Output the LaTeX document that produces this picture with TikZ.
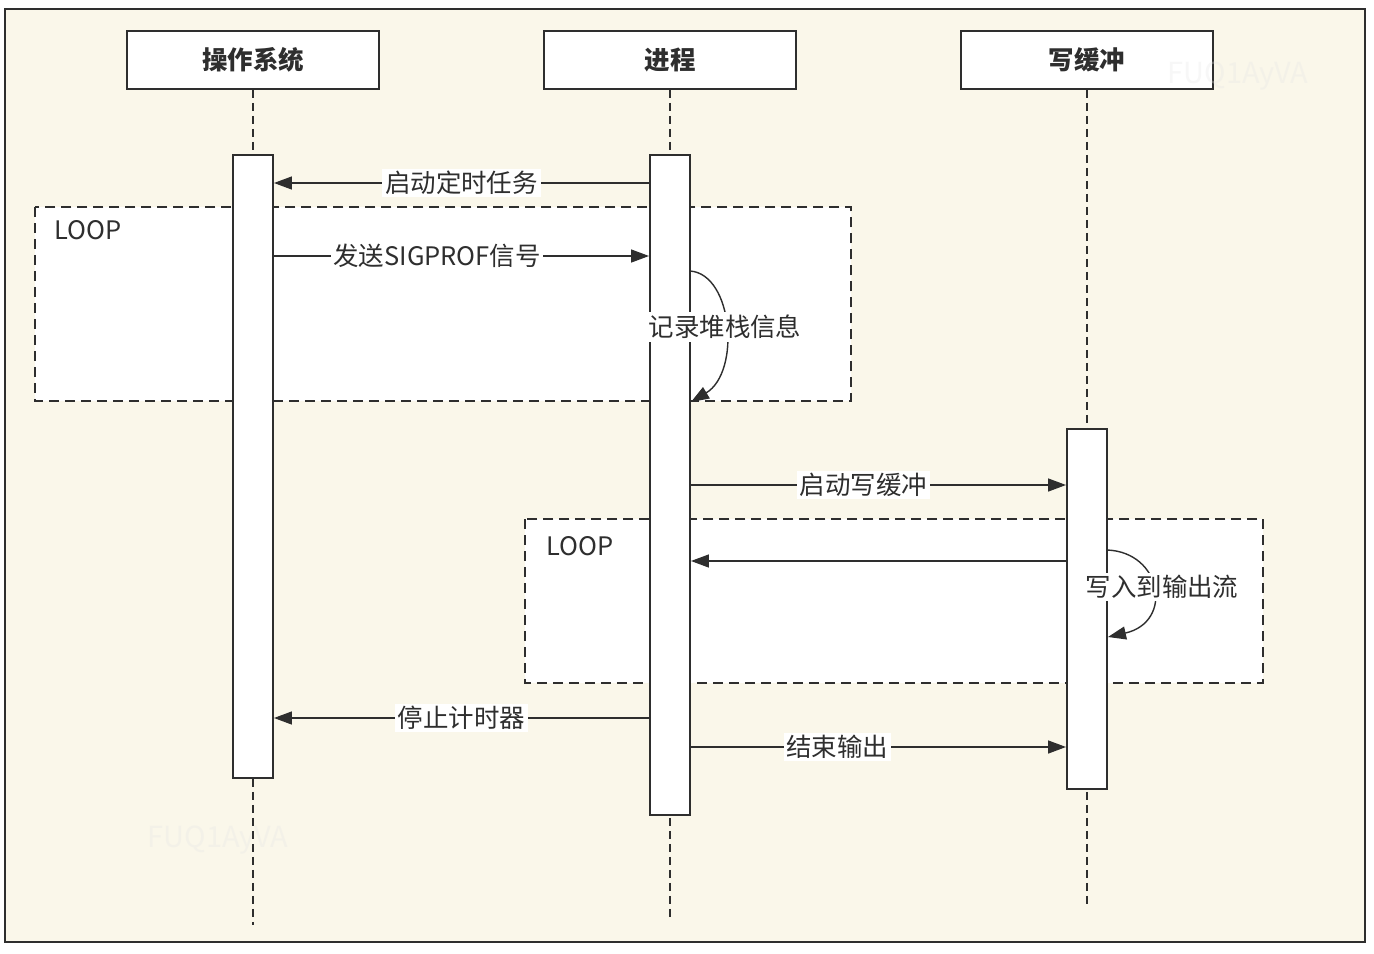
\documentclass[tikz,border=0pt]{standalone}
\usepackage{fontspec}
\setmainfont{Noto Sans CJK SC}
\usetikzlibrary{arrows.meta}

\definecolor{paper}{HTML}{FAF7EA}
\definecolor{ink}{HTML}{2E2E2E}

\tikzset{
  head/.style={draw=ink, line width=1.1pt, fill=white, minimum width=5.04cm, minimum height=1.16cm, text=ink, font=\bfseries\fontsize{14.5}{16}\selectfont},
  bar/.style={draw=ink, line width=1.1pt, fill=white, minimum width=0.8cm, inner sep=0pt},
  life/.style={draw=ink, line width=0.9pt, dash pattern=on 0.16cm off 0.1cm},
  loopbox/.style={draw=ink, fill=white, line width=0.9pt, dash pattern=on 0.2cm off 0.12cm},
  msg/.style={draw=ink, line width=0.8pt, -{Triangle[length=0.36cm,width=0.26cm]}},
  lbl/.style={fill=white, inner sep=1.5pt, text=ink, font=\fontsize{14.5}{16}\selectfont},
  looplbl/.style={anchor=west, inner sep=0pt, text=ink, font=\fontsize{14.5}{16}\selectfont},
  wmark/.style={text=black!10, text opacity=0.3, font=\fontsize{16.5}{18}\selectfont}
}

\begin{document}
\begin{tikzpicture}[x=0.02cm, y=-0.02cm]

\useasboundingbox (0,0) rectangle (1374,954);
\fill[white] (0,0) rectangle (1374,954);
\draw[ink, line width=1.2pt, fill=paper] (5,9) rectangle (1365,942);

%%%%%% Participants
\node[head] (os) at (253,60) {操作系统}; \node[head] (proc) at (670,60) {进程}; \node[head] (buf) at (1087,60) {写缓冲};

\node[wmark] (wm1) at (1238,76) {FUQ1AyVA}; \node[wmark] (wm2) at (218,840) {FUQ1AyVA};

%%%%%% Loop frames
\draw[loopbox] (35,207) rectangle (851,401); \node[looplbl] (loop1) at (54,230) {LOOP};
\draw[loopbox] (525,519) rectangle (1263,683); \node[looplbl] (loop2) at (546,546) {LOOP};

%%%%%% Lifelines and activations
\coordinate (osend) at (253,925); \coordinate (procend) at (670,918); \coordinate (bufend) at (1087,905);
\draw[life] (os.south) -- (osend); \draw[life] (proc.south) -- (procend); \draw[life] (buf.south) -- (bufend);

\node[bar, minimum height=12.46cm] (osbar) at (253,466.5) {};
\node[bar, minimum height=13.2cm] (procbar) at (670,485) {};
\node[bar, minimum height=7.2cm] (bufbar) at (1087,609) {};

%%%%%% Messages
\coordinate (r1) at (0,183); \coordinate (r2) at (0,256); \coordinate (r3) at (0,485); \coordinate (r4) at (0,561); \coordinate (r5) at (0,718); \coordinate (r6) at (0,747);

\draw[msg] (procbar.west |- r1) -- node[lbl] {启动定时任务} (osbar.east |- r1);
\draw[msg] (osbar.east |- r2) -- node[lbl, pos=0.435] {发送SIGPROF信号} (procbar.west |- r2);
\draw[msg] (procbar.east |- r3) -- node[lbl, pos=0.46] {启动写缓冲} (bufbar.west |- r3);
\draw[msg] (bufbar.west |- r4) -- (procbar.east |- r4);
\draw[msg] (procbar.west |- r5) -- node[lbl] {停止计时器} (osbar.east |- r5);
\draw[msg] (procbar.east |- r6) -- node[lbl, pos=0.39] {结束输出} (bufbar.west |- r6);

%%%%%% Self calls
\coordinate (s1) at (690,271); \coordinate (e1) at (691,402);
\draw[msg] (s1) .. controls (733,274) and (741,372) .. (e1); \node[lbl] (rec) at (725,327) {记录堆栈信息};

\coordinate (s2) at (1107,550); \coordinate (e2) at (1108,637);
\draw[msg] (s2) .. controls (1162,552) and (1174,622) .. (e2); \node[lbl] (wr) at (1162,587) {写入到输出流};

\end{tikzpicture}
\end{document}
